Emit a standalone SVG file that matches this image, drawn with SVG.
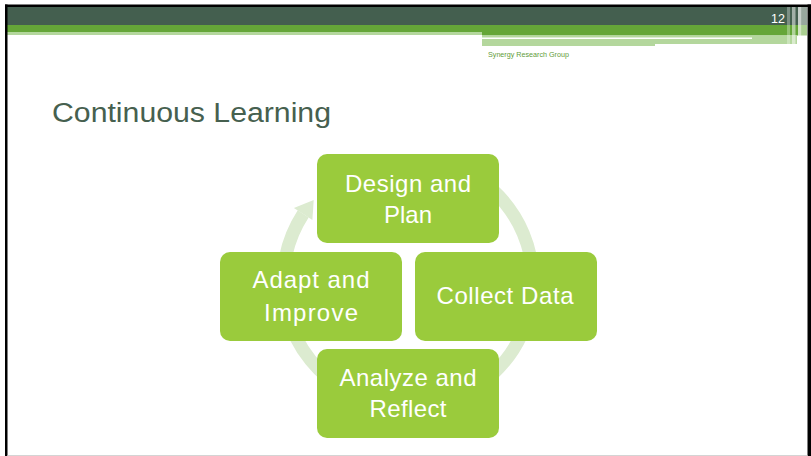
<svg xmlns="http://www.w3.org/2000/svg" width="811" height="456" viewBox="0 0 811 456">
  <style>
    .node rect { fill: #9acb3c; }
    .node text { fill: #ffffff; font-family: "Liberation Sans", Arial, sans-serif; font-size: 24px; text-anchor: middle; }
    .title { fill: #46604f; font-family: "Liberation Sans", Arial, sans-serif; font-size: 27px; }
    .ring { fill: none; stroke: #dcebd0; stroke-width: 13; }
    .ring-head { fill: #dcebd0; }
  </style>

  <!-- page -->
  <rect x="0" y="0" width="811" height="456" fill="#ffffff"/>

  <!-- header bands -->
  <g id="header">
    <rect x="7" y="7" width="800" height="18" fill="#445f4f"/>
    <rect x="7" y="25" width="800" height="7" fill="#65a638"/>
    <rect x="7" y="32" width="475" height="3" fill="#b4d79d"/>
    <rect x="482" y="32" width="325" height="3.5" fill="#65a638"/>
    <rect x="482" y="35.5" width="315" height="8.5" fill="#b4d79d"/>
    <rect x="482" y="44" width="173" height="2" fill="#b4d79d"/>
    <rect x="482" y="37.5" width="270" height="1.5" fill="#ffffff"/>
    <!-- vertical stripes at the right end -->
    <rect x="787" y="7" width="3" height="40" fill="#ffffff" opacity="0.3"/>
    <rect x="792" y="7" width="3.5" height="40" fill="#ffffff" opacity="0.5"/>
    <rect x="798" y="7" width="3.5" height="40" fill="#ffffff" opacity="0.7"/>
    <rect x="801.5" y="7" width="5.5" height="40" fill="#ffffff" opacity="0.45"/>
    <text x="785" y="23" fill="#ffffff" font-family="Liberation Sans, Arial, sans-serif" font-size="12.5" text-anchor="end">12</text>
    <text x="488" y="57" fill="#5f9c3a" font-family="Liberation Sans, Arial, sans-serif" font-size="7.2" textLength="81" lengthAdjust="spacingAndGlyphs">Synergy Research Group</text>
  </g>

  <!-- frame -->
  <g id="frame" fill="#000000">
    <rect x="5" y="4.5" width="806" height="2.5"/>
    <rect x="5" y="4.5" width="2.5" height="451.5"/>
    <rect x="807.5" y="4.5" width="3.5" height="451.5"/>
    <rect x="7.5" y="455" width="800" height="1" fill="#d4d4d4"/>
  </g>

  <text class="title" x="52" y="122" textLength="279" lengthAdjust="spacingAndGlyphs">Continuous Learning</text>

  <!-- cycle arrow behind the steps -->
  <g id="connectors">
    <path class="ring" d="M 450.8 164.5 A 125 125 0 1 1 303.2 213.9"/>
    <polygon class="ring-head" points="313.7,200 293.9,207.9 312.4,219.9"/>
  </g>

  <g id="design-plan" class="node">
    <rect x="317" y="154" width="182" height="89" rx="10"/>
    <text x="408" y="192" textLength="126">Design and</text>
    <text x="408" y="223">Plan</text>
  </g>
  <g id="collect-data" class="node">
    <rect x="415" y="252" width="182" height="89" rx="10"/>
    <text x="505" y="304" textLength="137">Collect Data</text>
  </g>
  <g id="analyze-reflect" class="node">
    <rect x="317" y="349" width="182" height="89" rx="10"/>
    <text x="408" y="386" textLength="137">Analyze and</text>
    <text x="408" y="417" textLength="77">Reflect</text>
  </g>
  <g id="adapt-improve" class="node">
    <rect x="220" y="252" width="182" height="89" rx="10"/>
    <text x="311" y="288" textLength="117">Adapt and</text>
    <text x="311" y="321" textLength="94">Improve</text>
  </g>
</svg>
